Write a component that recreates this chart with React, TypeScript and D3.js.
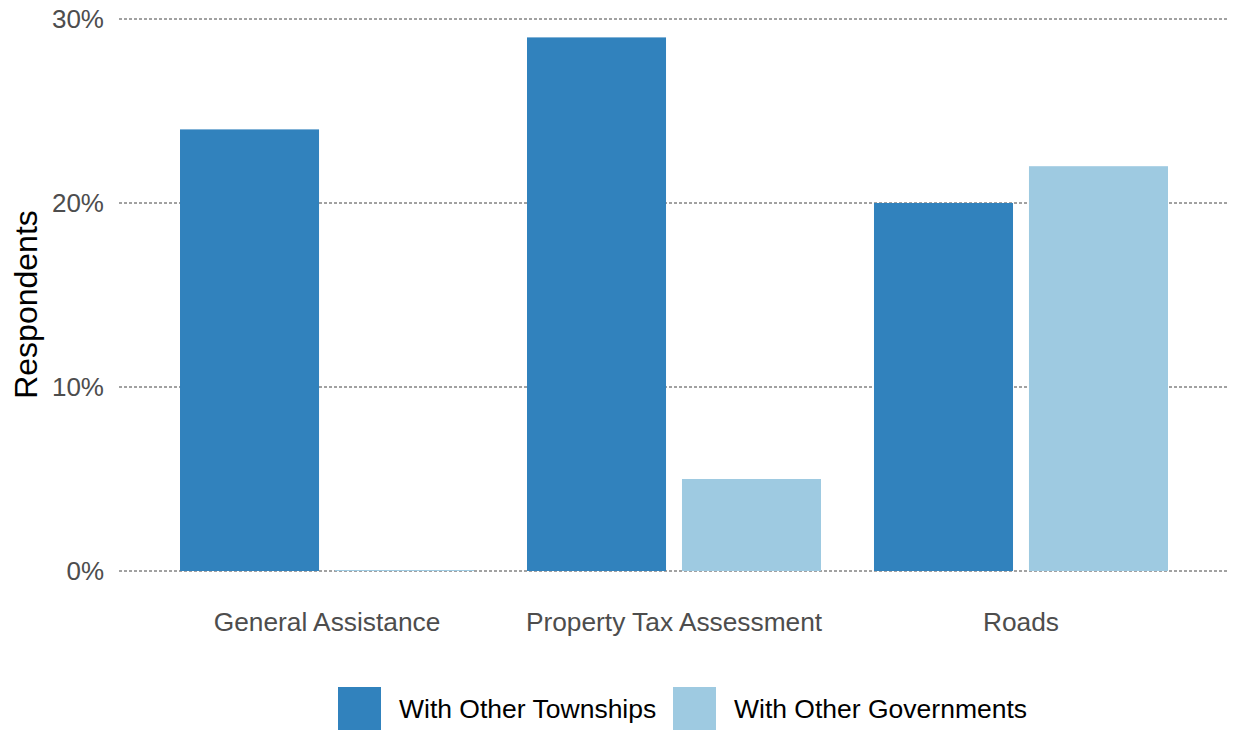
import React from "react";
import * as d3 from "d3";

const categories = ["General Assistance", "Property Tax Assessment", "Roads"];
const seriesNames = ["With Other Townships", "With Other Governments"];
const townships = [24, 29, 20];
const governments = [0, 5, 22];
const yTicks = [0, 10, 20, 30];
const colors = ["#3182bd", "#9ecae1"];

const W = 1235;
const H = 730;

export default function App() {
  const y = d3.scaleLinear().domain([0, 30]).range([571, 19]);
  const x0 = d3
    .scaleBand<string>()
    .domain(categories)
    .range([153.5, 1194.5])
    .paddingInner(0.1527)
    .paddingOuter(0.0764);
  const x1 = d3
    .scaleBand<string>()
    .domain(seriesNames)
    .range([0, x0.bandwidth()])
    .paddingInner(0.103);
  const values = [townships, governments];
  const font = "'Liberation Sans', Arial, sans-serif";

  return (
    <svg
      width={W}
      height={H}
      style={{ position: "absolute", left: 0, top: 0, display: "block", background: "#fff" }}
      fontFamily={font}
    >
      {yTicks.map((t) => (
        <g key={t}>
          <line
            x1={119}
            x2={1228}
            y1={y(t)}
            y2={y(t)}
            stroke="#444"
            strokeWidth={1}
            strokeDasharray="3,2"
          />
          <text x={104} y={y(t)} dy="0.36em" textAnchor="end" fontSize={26} fill="#4d4d4d">
            {d3.format("d")(t) + "%"}
          </text>
        </g>
      ))}
      {categories.map((c, i) => (
        <g key={c} transform={`translate(${x0(c)},0)`}>
          {seriesNames.map((s, j) => {
            const v = values[j][i];
            const h = Math.max(1, y(0) - y(v));
            return (
              <rect
                key={s}
                x={x1(s)}
                y={y(0) - h}
                width={x1.bandwidth()}
                height={h}
                fill={colors[j]}
              />
            );
          })}
          <text
            x={x0.bandwidth() / 2}
            y={631}
            textAnchor="middle"
            fontSize={26.3}
            fill="#4d4d4d"
          >
            {c}
          </text>
        </g>
      ))}
      <text
        transform={`translate(37,304.5) rotate(-90)`}
        textAnchor="middle"
        fontSize={32}
        fill="#000"
      >
        Respondents
      </text>
      {seriesNames.map((s, j) => {
        const lx = j === 0 ? 338 : 673;
        return (
          <g key={s}>
            <rect x={lx} y={687} width={43} height={43} fill={colors[j]} />
            <text x={lx + 61} y={708.5} dy="0.36em" fontSize={26.5} fill="#000">
              {s}
            </text>
          </g>
        );
      })}
    </svg>
  );
}
